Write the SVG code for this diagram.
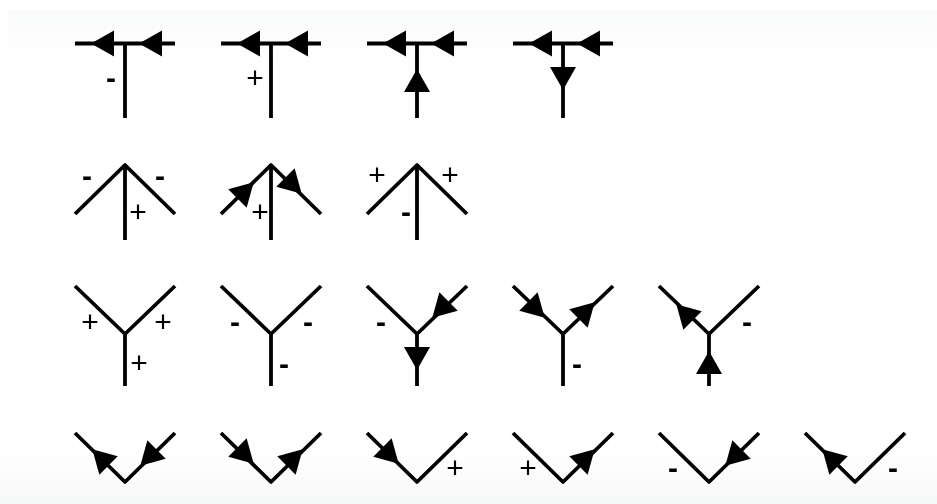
<svg xmlns="http://www.w3.org/2000/svg" xmlns:xlink="http://www.w3.org/1999/xlink" width="937" height="504" viewBox="0 0 937 504">
<style>
.w{fill:none;stroke:#000;stroke-width:3.8;stroke-linecap:butt;stroke-linejoin:round}
.a{fill:#000}
text{font-family:"Liberation Sans",Arial,sans-serif;font-size:30px;text-anchor:middle;fill:#000}
.m{font-weight:bold}
</style>
<defs>
<polygon id="ah" class="a" points="1,0 -22,-13 -22,13"/>
<filter id="soft" x="-5%" y="-5%" width="110%" height="110%"><feGaussianBlur stdDeviation="0.7"/></filter>
<linearGradient id="bgTop" x1="0" y1="0" x2="0" y2="1"><stop offset="0" stop-color="#fafbfb"/><stop offset="1" stop-color="#fff"/></linearGradient>
<linearGradient id="bgBot" x1="0" y1="0" x2="0" y2="1"><stop offset="0" stop-color="#fff"/><stop offset="1" stop-color="#f7f8f9"/></linearGradient>
</defs>
<rect width="937" height="504" fill="#fff"/>
<rect x="8" y="10" width="929" height="55" fill="url(#bgTop)"/>
<rect y="450" width="937" height="54" fill="url(#bgBot)"/>
<g filter="url(#soft)">
<g id="connectors">
<path class="w" d="M75 43.5H175M125 43.5V118"/>
<path class="w" d="M221 43.5H321M271 43.5V118"/>
<path class="w" d="M367 43.5H467M417 43.5V118"/>
<path class="w" d="M513 43.5H613M563 43.5V118"/>
<path class="w" d="M75 214L125 165L175 214M125 165V240"/>
<path class="w" d="M221 214L271 165L321 214M271 165V240"/>
<path class="w" d="M367 214L417 165L467 214M417 165V240"/>
<path class="w" d="M75 286L125 334L175 286M125 334V386"/>
<path class="w" d="M221 286L271 334L321 286M271 334V386"/>
<path class="w" d="M367 286L417 334L467 286M417 334V386"/>
<path class="w" d="M513 286L563 334L613 286M563 334V386"/>
<path class="w" d="M659 286L709 334L759 286M709 334V386"/>
<path class="w" d="M75 433L125 482L175 433"/>
<path class="w" d="M221 433L271 482L321 433"/>
<path class="w" d="M367 433L417 482L467 433"/>
<path class="w" d="M513 433L563 482L613 433"/>
<path class="w" d="M659 433L709 482L759 433"/>
<path class="w" d="M805 433L855 482L905 433"/>
</g>
<g id="arrows">
<use xlink:href="#ah" transform="translate(92 43.5) rotate(180)"/><use xlink:href="#ah" transform="translate(140 43.5) rotate(180)"/>
<use xlink:href="#ah" transform="translate(238 43.5) rotate(180)"/><use xlink:href="#ah" transform="translate(286 43.5) rotate(180)"/>
<use xlink:href="#ah" transform="translate(384 43.5) rotate(180)"/><use xlink:href="#ah" transform="translate(432 43.5) rotate(180)"/>
<use xlink:href="#ah" transform="translate(530 43.5) rotate(180)"/><use xlink:href="#ah" transform="translate(578 43.5) rotate(180)"/>
<use xlink:href="#ah" transform="translate(417 70) rotate(-90)"/>
<use xlink:href="#ah" transform="translate(563 89) rotate(90)"/>
<use xlink:href="#ah" transform="translate(253 183) rotate(-45)"/>
<use xlink:href="#ah" transform="translate(301 193) rotate(45)"/>
<use xlink:href="#ah" transform="translate(433 317) rotate(135)"/>
<use xlink:href="#ah" transform="translate(417 369) rotate(90)"/>
<use xlink:href="#ah" transform="translate(544 317) rotate(45)"/>
<use xlink:href="#ah" transform="translate(594 303) rotate(-45)"/>
<use xlink:href="#ah" transform="translate(677 305) rotate(-135)"/>
<use xlink:href="#ah" transform="translate(709 352) rotate(-90)"/>
<use xlink:href="#ah" transform="translate(93 450) rotate(-135)"/>
<use xlink:href="#ah" transform="translate(141 465) rotate(135)"/>
<use xlink:href="#ah" transform="translate(253 463) rotate(45)"/>
<use xlink:href="#ah" transform="translate(302 450) rotate(-45)"/>
<use xlink:href="#ah" transform="translate(398 463) rotate(45)"/>
<use xlink:href="#ah" transform="translate(594 450) rotate(-45)"/>
<use xlink:href="#ah" transform="translate(726 465) rotate(135)"/>
<use xlink:href="#ah" transform="translate(823 450) rotate(-135)"/>
</g>
<g id="labels">
<text class="m" x="111" y="88">-</text>
<text x="255" y="88">+</text>
<text class="m" x="87" y="186">-</text><text class="m" x="160" y="186">-</text><text x="138" y="222">+</text>
<text x="260" y="222">+</text>
<text x="377" y="185">+</text><text x="450" y="185">+</text><text class="m" x="406" y="222">-</text>
<text x="90" y="332">+</text><text x="163" y="332">+</text><text x="139" y="373">+</text>
<text class="m" x="235" y="332">-</text><text class="m" x="308" y="332">-</text><text class="m" x="284" y="374">-</text>
<text class="m" x="381" y="332">-</text>
<text class="m" x="577" y="374">-</text>
<text class="m" x="747" y="332">-</text>
<text x="455" y="478">+</text>
<text x="528" y="478">+</text>
<text class="m" x="673" y="478">-</text>
<text class="m" x="893" y="478">-</text>
</g>
</g>
</svg>
